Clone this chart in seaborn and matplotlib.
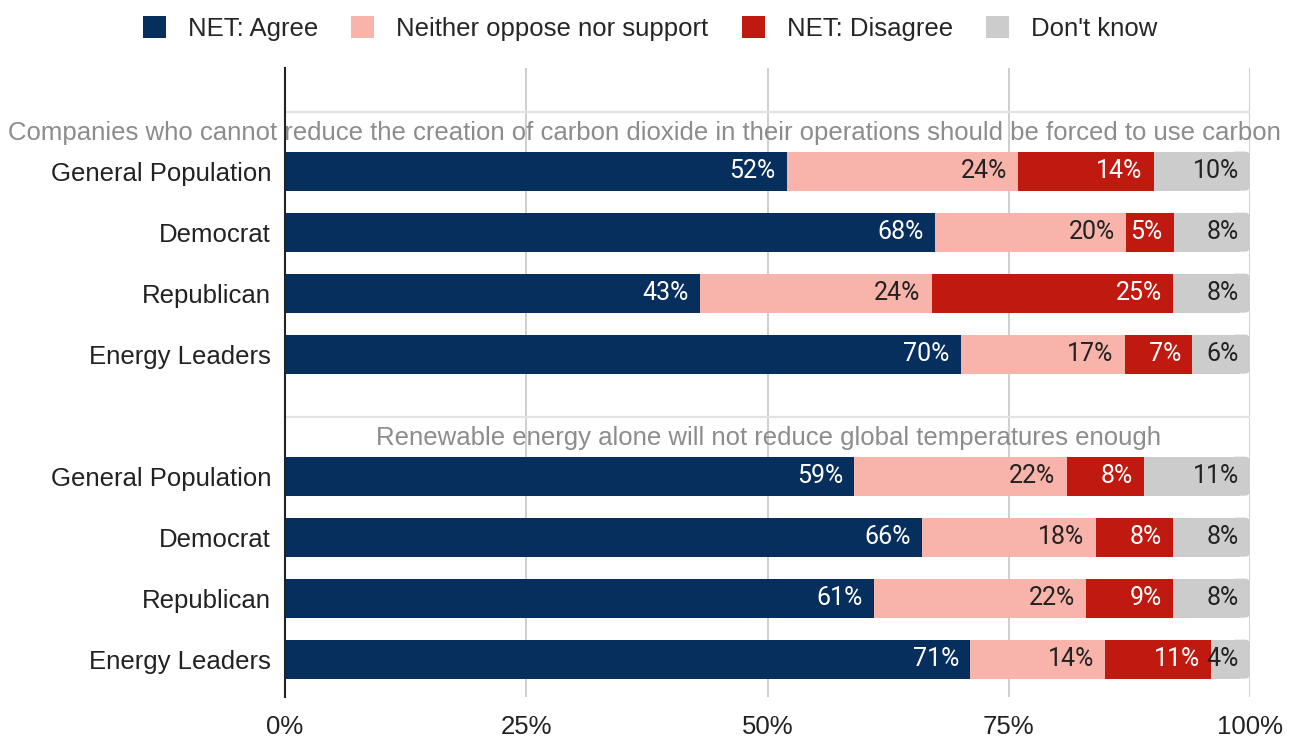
import matplotlib
matplotlib.use("Agg")
import matplotlib.pyplot as plt
import matplotlib.transforms as mtrans
from matplotlib.patches import Patch, FancyBboxPatch
import seaborn as sns
import pandas as pd
import numpy as np

# ---------------- data ----------------
groups = ["General Population", "Democrat", "Republican", "Energy Leaders"]
questions = [
    "Companies who cannot reduce the creation of carbon dioxide in their operations should be forced to use carbon",
    "Renewable energy alone will not reduce global temperatures enough",
]
series = ["NET: Agree", "Neither oppose nor support", "NET: Disagree", "Don't know"]

q1_agree = [52, 68, 43, 70]
q1_neither = [24, 20, 24, 17]
q1_disagree = [14, 5, 25, 7]
q1_dontknow = [10, 8, 8, 6]

q2_agree = [59, 66, 61, 71]
q2_neither = [22, 18, 22, 14]
q2_disagree = [8, 8, 9, 11]
q2_dontknow = [11, 8, 8, 4]

xticks = [0, 25, 50, 75, 100]
xticklabels = ["0%", "25%", "50%", "75%", "100%"]

colors = ["#062f5e", "#f8b3aa", "#c0190f", "#cccccc"]
label_colors = ["white", "#222222", "white", "#222222"]

# ---------------- build table ----------------
q_values = [
    [q1_agree, q1_neither, q1_disagree, q1_dontknow],
    [q2_agree, q2_neither, q2_disagree, q2_dontknow],
]
order = []
records = []
for qi, vals in enumerate(q_values):
    order.append(f"H{qi}")
    for gi, g in enumerate(groups):
        key = f"Q{qi}|{g}"
        order.append(key)
        raw = [vals[si][gi] for si in range(len(series))]
        tot = sum(raw)
        cum = 0.0
        for si, s in enumerate(series):
            pct = raw[si] / tot * 100
            records.append(dict(key=key, series=s, value=raw[si],
                                start=cum, end=cum + pct))
            cum += pct
df = pd.DataFrame(records)

# ---------------- plot ----------------
sns.set_theme(style="white")
plt.rcParams["font.family"] = ["Liberation Sans", "DejaVu Sans"]

FS = 18.5
BAR_H = 0.64

fig = plt.figure(figsize=(12.9, 7.4), dpi=100)
ax = fig.add_axes([285 / 1290, 1 - 697 / 740, 965 / 1290, 629 / 740])

for x in xticks:
    ax.axvline(x, color="#cccccc", lw=1.3, zorder=0)

for si in reversed(range(len(series))):
    sub = df[df["series"] == series[si]]
    n_before = len(ax.patches)
    sns.barplot(data=sub, x="end", y="key", order=order, orient="h",
                color=colors[si], saturation=1, width=BAR_H, errorbar=None,
                edgecolor="none", linewidth=0, ax=ax, zorder=2)
    if si == len(series) - 1:
        # rounded right end for the last segment
        for p in list(ax.patches[n_before:]):
            w = p.get_width()
            if not np.isfinite(w) or w <= 0:
                continue
            y0, h = p.get_y(), p.get_height()
            p.set_width(w - 1.0)
            ax.add_patch(FancyBboxPatch((w - 2.0, y0), 2.0, h,
                                        boxstyle="round,pad=0,rounding_size=0.55",
                                        mutation_aspect=0.15,
                                        facecolor=colors[si], edgecolor="none",
                                        linewidth=0, zorder=2))

pos = {k: i for i, k in enumerate(order)}
for _, r in df.iterrows():
    si = series.index(r["series"])
    ax.text(r["end"] - 1.15, pos[r["key"]], f"{r['value']}%",
            ha="right", va="center", fontsize=18, family=["Roboto", "DejaVu Sans"],
            color=label_colors[si], zorder=3)

# header rows
trans = mtrans.blended_transform_factory(fig.transFigure, ax.transData)
title_x = [644.5 / 1290, 768 / 1290]
for qi, q in enumerate(questions):
    y = pos[f"H{qi}"]
    ax.plot([0, 100], [y + 0.03, y + 0.03], color="#e3e3e3", lw=1.6, zorder=1)
    ax.text(title_x[qi], y + 0.38, q, transform=trans, ha="center",
            va="center", fontsize=FS, color="#8c8c8c", clip_on=False)

ax.set_xlim(0, 100)
ax.set_ylim(9.62, -0.69)
ax.set_xticks(xticks)
ax.set_xticklabels(xticklabels, fontsize=FS, color="#222222")
ax.set_yticks(range(len(order)))
ax.set_yticklabels(["" if k.startswith("H") else k.split("|")[1] for k in order],
                   fontsize=FS, color="#222222")
ax.tick_params(axis="both", length=0, pad=10)
ax.tick_params(axis="x", pad=13)
ax.set_xlabel("")
ax.set_ylabel("")
for s in ["top", "right", "bottom"]:
    ax.spines[s].set_visible(False)
ax.spines["left"].set_color("#222222")
ax.spines["left"].set_linewidth(1.5)
ax.spines["left"].set_zorder(4)

handles = [Patch(facecolor=c, edgecolor="none") for c in colors]
fig.legend(handles, series, loc="upper center", bbox_to_anchor=(0.504, 1.009),
           ncol=4, frameon=False, fontsize=FS, handlelength=0.9,
           handleheight=0.9, handletextpad=0.85, columnspacing=1.3)

fig.savefig("out.png", dpi=100)
